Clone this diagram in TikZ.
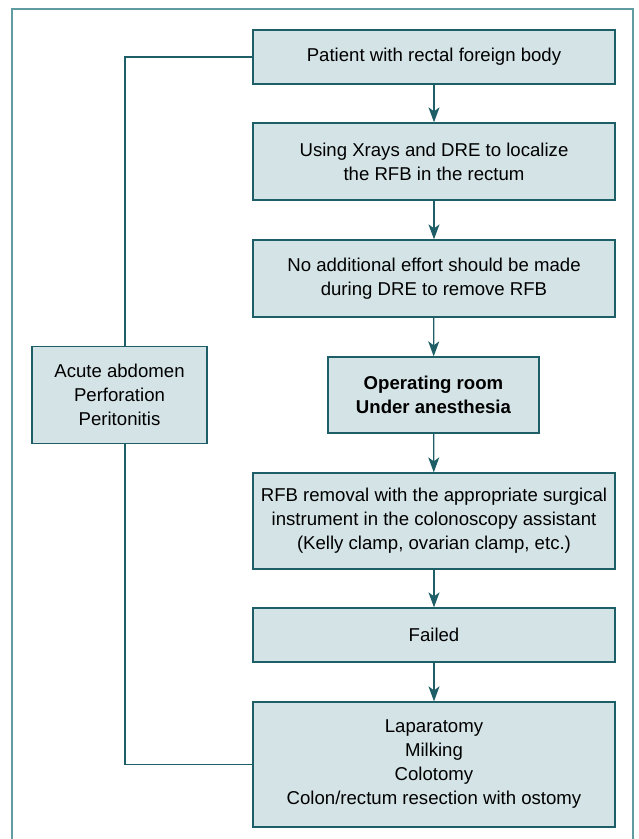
\documentclass[tikz,border=0pt]{standalone}
\usepackage{fontspec}
\setmainfont{Liberation Sans}
\usetikzlibrary{arrows.meta}
\definecolor{boxfill}{HTML}{D4E3E6}
\definecolor{teal}{HTML}{1E5E66}
\definecolor{frame}{HTML}{5F9BA1}
\begin{document}
\begin{tikzpicture}[x=1pt,y=-1pt,
  box/.style={draw=teal,fill=boxfill,line width=1.3pt,align=center,inner sep=0pt,
    font=\fontsize{18.6}{24}\selectfont,minimum width=362pt},
  arr/.style={draw=teal,line width=1.3pt,-{Stealth[length=15pt,width=11pt,inset=4pt]}},
  lin/.style={draw=teal,line width=1.2pt}]
\useasboundingbox (0,0) rectangle (639,839);
\draw[frame,line width=1.5pt] (12,9) rectangle (633,850);

\node[box,minimum height=54pt] (A) at (434,57) {Patient with rectal foreign body};
\node[box,minimum height=77pt] (B) at (434,161.5) {Using Xrays and DRE to localize\\the RFB in the rectum};
\node[box,minimum height=77pt] (C) at (434,278.5) {No additional effort should be made\\during DRE to remove RFB};
\node[box,minimum height=76pt,minimum width=211pt,font=\fontsize{18.6}{24}\selectfont\bfseries] (D) at (433.5,395) {Operating room\\Under anesthesia};
\node[box,minimum height=96pt] (E) at (434,521) {RFB removal with the appropriate surgical\\instrument in the colonoscopy assistant\\(Kelly clamp, ovarian clamp, etc.)};
\node[box,minimum height=54pt] (F) at (434,635) {Failed};
\node[box,minimum height=125pt] (G) at (434,764.5) {Laparatomy\\Milking\\Colotomy\\Colon/rectum resection with ostomy};

\node[box,minimum height=97pt,minimum width=175pt] (S) at (119.5,395) {Acute abdomen\\Perforation\\Peritonitis};

\draw[arr] (A)--(B);
\draw[arr] (B)--(C);
\draw[arr] (C)--(D);
\draw[arr] (D)--(E);
\draw[arr] (E)--(F);
\draw[arr] (F)--(G);
\draw[lin] (A.west) -| ([xshift=5.5pt]S.north);
\draw[lin] ([xshift=5.5pt]S.south) |- (G.west);
\end{tikzpicture}
\end{document}
